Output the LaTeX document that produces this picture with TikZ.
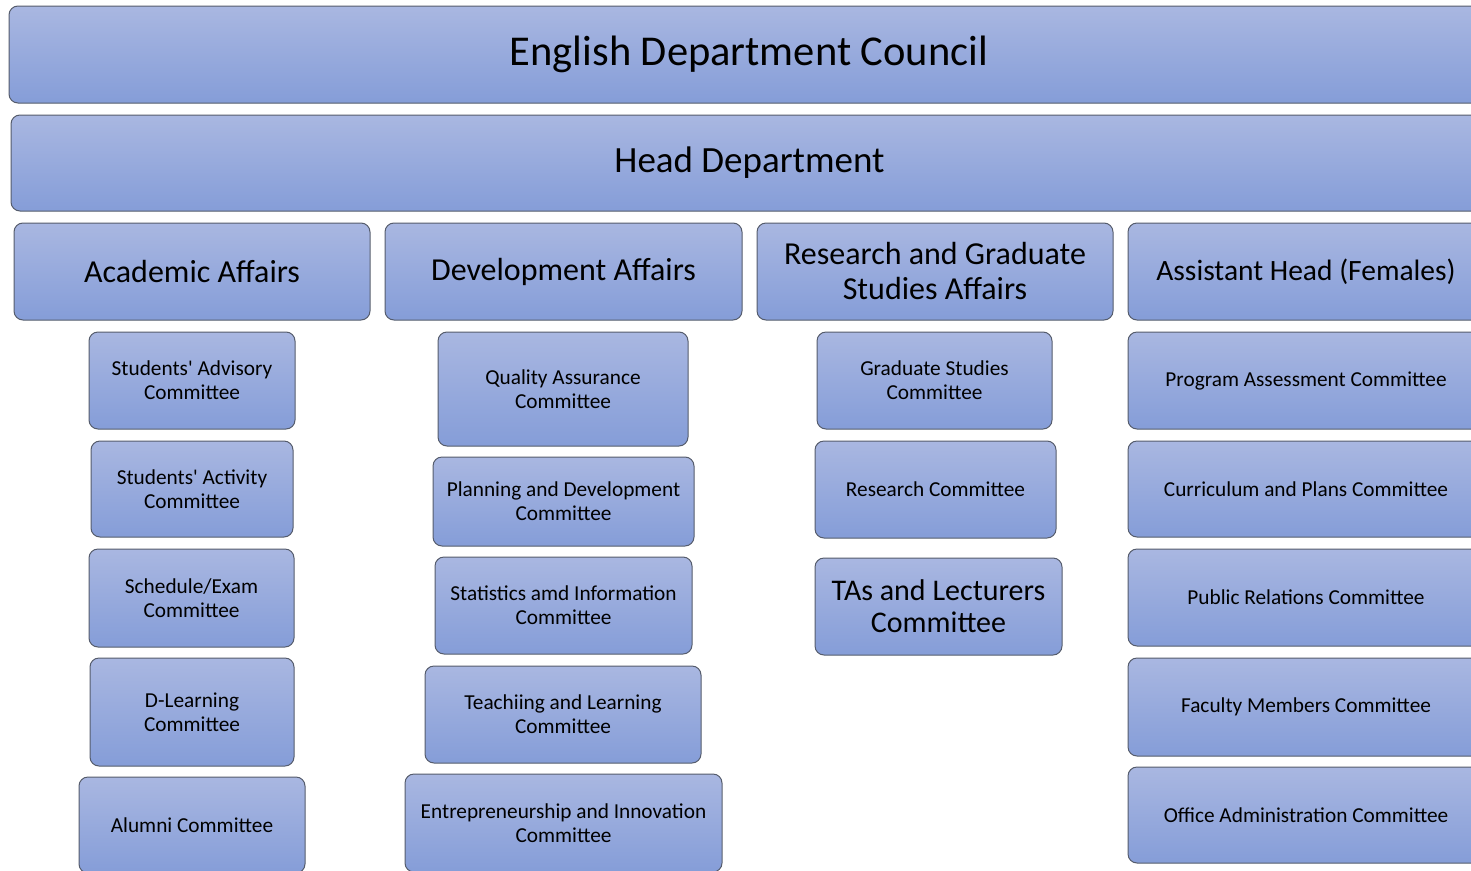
\documentclass[tikz,border=0pt]{standalone}
\usepackage{fontspec}
\setmainfont{Carlito}[Ligatures=TeXOff]
\definecolor{boxtop}{RGB}{169,183,225}
\definecolor{boxbot}{RGB}{133,157,216}
\definecolor{boxline}{RGB}{85,92,108}
\tikzset{
  orgbox/.style={draw=boxline, line width=1pt, rounded corners=9pt,
    top color=boxtop, bottom color=boxbot, align=center, inner sep=0pt, text=black},
  fcouncil/.style={font=\fontsize{42.5}{48}\selectfont},
  fhead/.style={font=\fontsize{37}{44}\selectfont},
  fmid/.style={font=\fontsize{32}{35}\selectfont},
  fasst/.style={font=\fontsize{29.5}{35}\selectfont},
  ftas/.style={font=\fontsize{30}{32}\selectfont},
  fsmall/.style={font=\fontsize{21.3}{24}\selectfont},
}
\begin{document}
\begin{tikzpicture}[x=1pt,y=-1pt]
\useasboundingbox (0,0) rectangle (1471,870);
\clip (0,0) rectangle (1471,870);
% top levels
\node[orgbox,fcouncil,minimum width=1480pt,minimum height=97pt] (council) at (749,54.5) {English Department Council};
\node[orgbox,fhead,minimum width=1477pt,minimum height=96pt] (head) at (749.5,163) {Head Department};
% second level
\node[orgbox,fmid,minimum width=356pt,minimum height=97pt] (acad) at (192,271.5) {Academic Affairs};
\node[orgbox,fmid,minimum width=357pt,minimum height=97pt] (dev) at (563.5,271.5) {Development Affairs};
\node[orgbox,fmid,minimum width=356pt,minimum height=97pt] (res) at (935,271.5) {Research and Graduate\\Studies Affairs};
\node[orgbox,fasst,minimum width=356pt,minimum height=97pt] (asst) at (1306,271.5) {Assistant Head (Females)};
% column 1
\node[orgbox,fsmall,minimum width=206pt,minimum height=97pt] (sadv) at (192,380.5) {Students' Advisory\\Committee};
\node[orgbox,fsmall,minimum width=202pt,minimum height=96pt] (sact) at (192,489) {Students' Activity\\Committee};
\node[orgbox,fsmall,minimum width=205pt,minimum height=98pt] (sched) at (191.5,598) {Schedule/Exam\\Committee};
\node[orgbox,fsmall,minimum width=204pt,minimum height=108pt] (dlearn) at (192,712) {D-Learning\\Committee};
\node[orgbox,fsmall,minimum width=226pt,minimum height=96pt] (alumni) at (192,825) {Alumni Committee};
% column 2
\node[orgbox,fsmall,minimum width=250pt,minimum height=114pt] (qa) at (563,389) {Quality Assurance\\Committee};
\node[orgbox,fsmall,minimum width=261pt,minimum height=89pt] (plan) at (563.5,501.5) {Planning and Development\\Committee};
\node[orgbox,fsmall,minimum width=257pt,minimum height=97pt] (stat) at (563.5,605.5) {Statistics amd Information\\Committee};
\node[orgbox,fsmall,minimum width=276pt,minimum height=97pt] (teach) at (563,714.5) {Teachiing and Learning\\Committee};
\node[orgbox,fsmall,minimum width=317pt,minimum height=98pt] (entre) at (563.5,823) {Entrepreneurship and Innovation\\Committee};
% column 3
\node[orgbox,fsmall,minimum width=235pt,minimum height=97pt] (grad) at (934.5,380.5) {Graduate Studies\\Committee};
\node[orgbox,fsmall,minimum width=241pt,minimum height=97pt] (rescom) at (935.5,489.5) {Research Committee};
\node[orgbox,ftas,minimum width=247pt,minimum height=97pt] (tas) at (938.5,606.5) {TAs and Lecturers\\Committee};
% column 4
\node[orgbox,fsmall,minimum width=356pt,minimum height=97pt] (prog) at (1306,380.5) {Program Assessment Committee};
\node[orgbox,fsmall,minimum width=356pt,minimum height=96pt] (curr) at (1306,489) {Curriculum and Plans Committee};
\node[orgbox,fsmall,minimum width=356pt,minimum height=97pt] (pub) at (1306,597.5) {Public Relations Committee};
\node[orgbox,fsmall,minimum width=356pt,minimum height=98pt] (fac) at (1306,707) {Faculty Members Committee};
\node[orgbox,fsmall,minimum width=356pt,minimum height=96pt] (office) at (1306,815) {Office Administration Committee};
\end{tikzpicture}
\end{document}
